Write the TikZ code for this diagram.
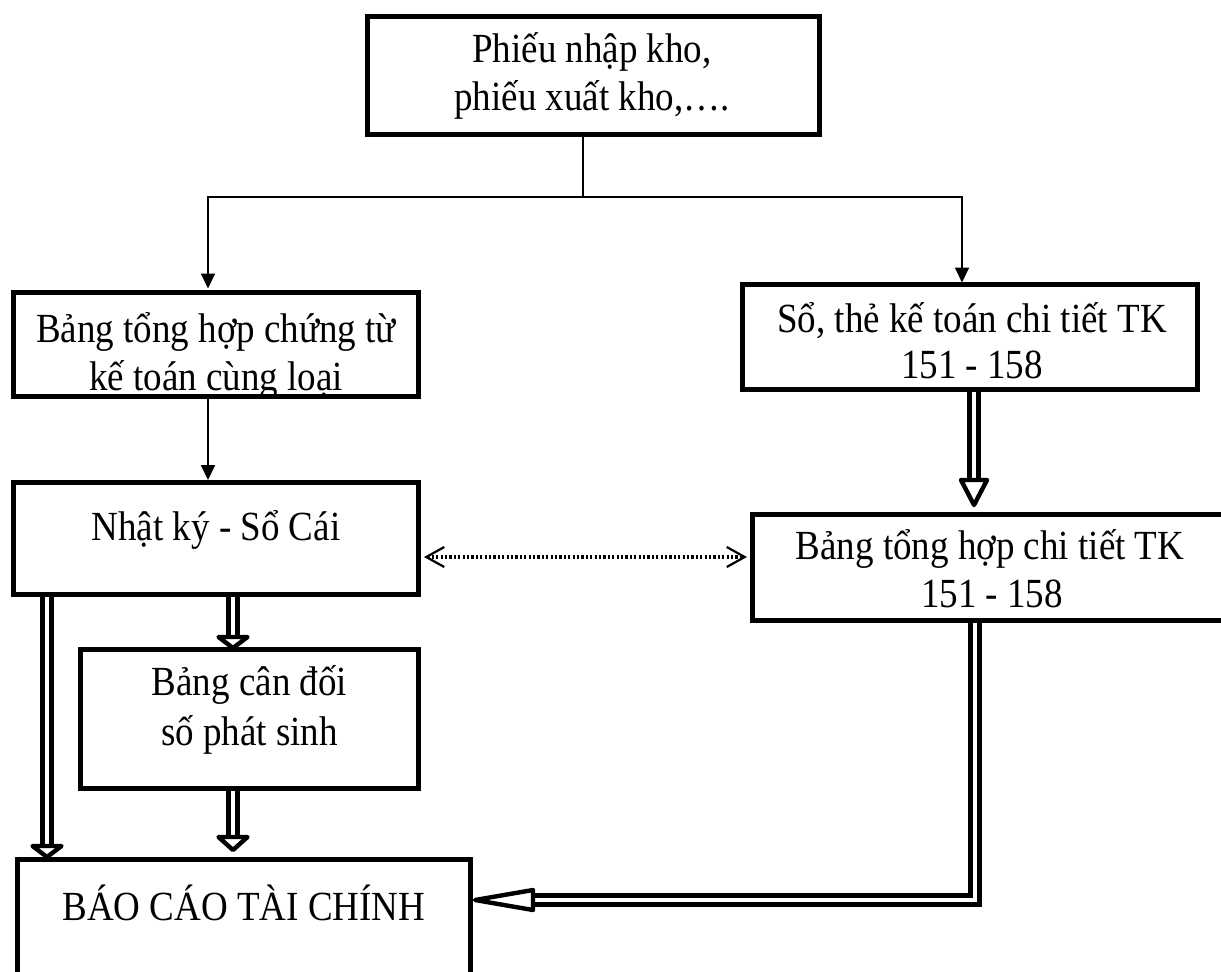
\documentclass[tikz,border=0pt]{standalone}
\usepackage{fontspec}
\setmainfont{Liberation Serif}
\usetikzlibrary{arrows.meta,calc}
% slightly tall lettering used in every label
\newcommand{\vstretch}[1]{\scalebox{1}[1.12]{#1}}
\tikzset{
  box/.style={draw, line width=2.5pt, line join=miter, inner sep=0pt, outer sep=0pt, anchor=north west},
  txt/.style={anchor=base, inner sep=0pt, font=\fontsize{18.5}{24}\selectfont},
  link/.style={line width=1pt, line join=miter},
  linkarrow/.style={link, -{Triangle[length=7.5pt,width=7pt]}},
  dbl/.style={double, double distance=2.2pt, line width=2.2pt, line join=miter},
  dblhead/.style={line width=2.2pt, fill=white, line join=round},
  dotlink/.style={line width=1.8pt, dash pattern=on 1.1pt off 1.1pt,
    {Straight Barb[length=9pt,width=10pt,line width=1.1pt]}-{Straight Barb[length=9pt,width=10pt,line width=1.1pt]}}
}
\begin{document}
\begin{tikzpicture}[x=0.5pt,y=-0.5pt]
\fill[white] (0,0) rectangle (1221,971);
\clip (0,0) rectangle (1221,971);

% boxes
\node[box, minimum width=226pt,   minimum height=59pt]   (src)     at (367.5,16.5) {};
\node[box, minimum width=202.5pt, minimum height=52pt]   (chungtu) at (13.5,292.5) {};
\node[box, minimum width=227.5pt, minimum height=52.5pt] (sothe)   at (742.5,284.5) {};
\node[box, minimum width=202.5pt, minimum height=56pt]   (nk)      at (13.5,482.5) {};
\node[box, minimum width=237.5pt, minimum height=53pt]   (thct)    at (752.5,514.5) {};
\node[box, minimum width=169pt,   minimum height=69.5pt] (bcd)     at (80.5,649.5) {};
\node[box, minimum width=226.5pt, minimum height=80pt]   (bctc)    at (17.5,859.5) {};

% texts
\node[txt] (src1) at (592,62)  {\vstretch{Phiếu nhập kho,}};
\node[txt] (src2) at (592,110) {\vstretch{phiếu xuất kho,….}};
\begin{scope}
  \clip (chungtu.north west) rectangle (chungtu.south east);
  \node[txt] (ct1) at (216,342) {\vstretch{Bảng tổng hợp chứng từ}};
  \node[txt] (ct2) at (216,390) {\vstretch{kế toán cùng loại}};
\end{scope}
\node[txt] (st1) at (972,332) {\vstretch{Sổ, thẻ kế toán chi tiết TK}};
\node[txt] (st2) at (972,378) {\vstretch{151 - 158}};
\node[txt] (nk1) at (216,540) {\vstretch{Nhật ký - Sổ Cái}};
\node[txt] (th1) at (990,559) {\vstretch{Bảng tổng hợp chi tiết TK}};
\node[txt] (th2) at (992,607) {\vstretch{151 - 158}};
\node[txt] (bcd1) at (249.5,695) {\vstretch{Bảng cân đối}};
\node[txt] (bcd2) at (249.5,745) {\vstretch{số phát sinh}};
\node[txt] (bc1) at (244,920) {\vstretch{BÁO CÁO TÀI CHÍNH}};

% thin split from the source documents
\coordinate (xs) at (583,0);
\coordinate (jl) at (208,197);
\coordinate (jr) at (962,197);
\draw[link] (src.south -| xs) -- (jl -| xs);
\draw[linkarrow] (xs |- jl) -- (jl) -- ($(chungtu.north -| jl)+(0,-4)$);
\draw[linkarrow] (xs |- jl) -- (jr) -- ($(sothe.north -| jr)+(0,-2)$);
\draw[linkarrow] ($(chungtu.south -| jl)+(0,2.5)$) -- ($(nk.north -| jl)+(0,-2.5)$);

% double connectors with hollow heads
\coordinate (xa) at (974,0);
\coordinate (t1) at ($(thct.north -| xa)+(0,-9.5)$);
\draw[dbl] ($(sothe.south -| xa)+(0,2.5)$) -- ($(t1)+(0,-22)$);
\draw[dblhead] (t1) -- ++(-13,-25) -- ++(26,0) -- cycle;

\coordinate (xb) at (233,0);
\coordinate (t2) at ($(bcd.north -| xb)+(0,-1.5)$);
\draw[dbl] ($(nk.south -| xb)+(0,2.5)$) -- ($(t2)+(0,-9)$);
\draw[dblhead] (t2) -- ++(-14.5,-11) -- ++(29,0) -- cycle;

\coordinate (t3) at ($(bctc.north -| xb)+(0,-9.5)$);
\draw[dbl] ($(bcd.south -| xb)+(0,2.5)$) -- ($(t3)+(0,-11)$);
\draw[dblhead] (t3) -- ++(-14.5,-13) -- ++(29,0) -- cycle;

\coordinate (xc) at (47,0);
\coordinate (t4) at ($(bctc.north -| xc)+(0,-2.5)$);
\draw[dbl] ($(nk.south -| xc)+(0,2.5)$) -- ($(t4)+(0,-9)$);
\draw[dblhead] (t4) -- ++(-14.5,-11) -- ++(29,0) -- cycle;

\coordinate (yh) at (0,900);
\coordinate (xd) at (975,0);
\coordinate (t5) at ($(bctc.east |- yh)+(4.5,0)$);
\draw[dbl] ($(thct.south -| xd)+(0,2.5)$) |- ($(t5)+(56,0)$);
\draw[dblhead] (t5) -- ++(58,-10) -- ++(0,20) -- cycle;

% dotted two-way link
\coordinate (yd) at (0,557);
\draw[dotlink] ($(nk.east |- yd)+(5.5,0)$) -- ($(thct.west |- yd)+(-5.5,0)$);
\end{tikzpicture}
\end{document}
